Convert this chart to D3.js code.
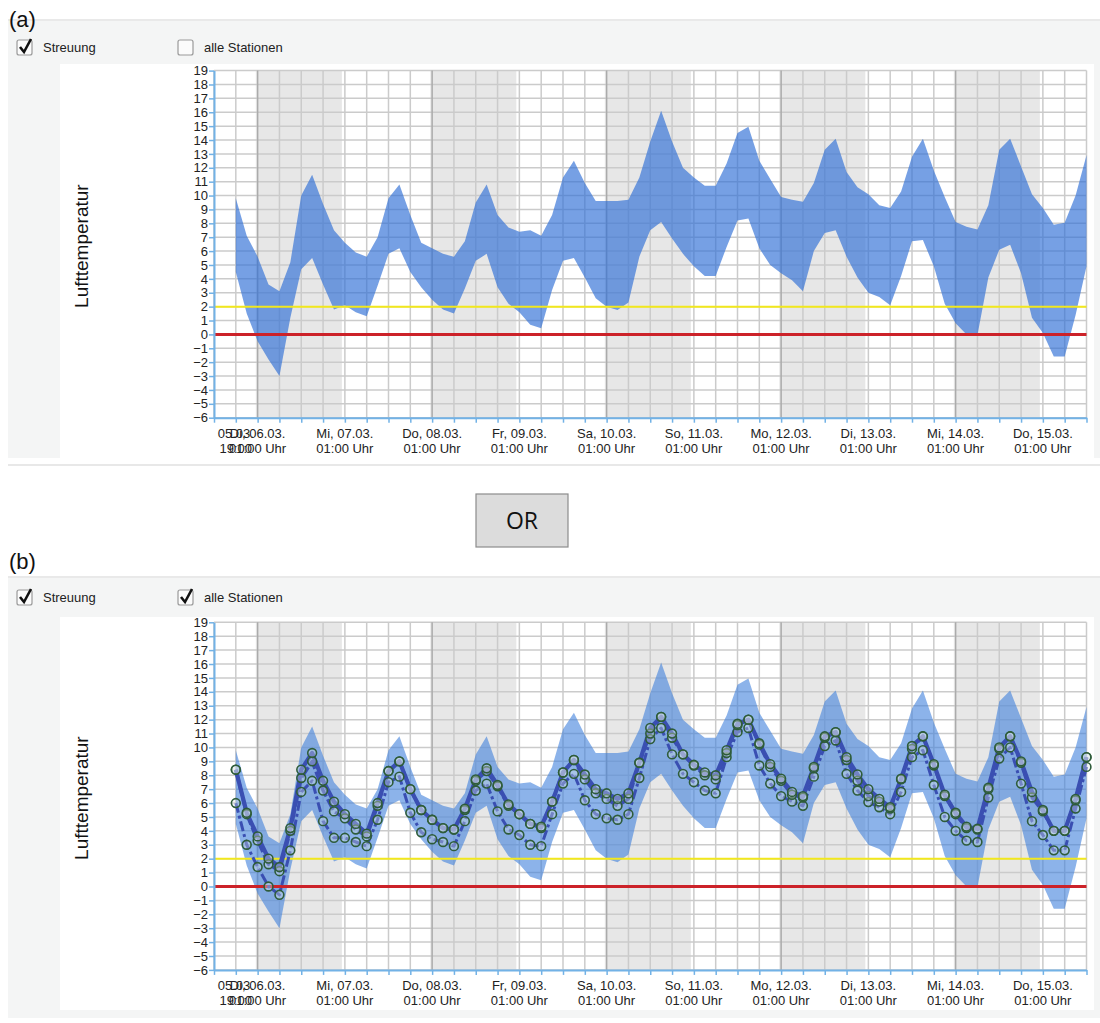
<!DOCTYPE html>
<html>
<head>
<meta charset="utf-8">
<script src="https://cdn.jsdelivr.net/npm/d3@7"></script>
<style>
  html, body { margin: 0; padding: 0; background: #ffffff; }
  svg { display: block; font-family: Arial, "Liberation Sans", sans-serif; }
</style>
</head>
<body>
<svg id="chart" width="1100" height="1023"></svg>
<script>
// ---- Forecast data: air temperature, one value every 3 hours from Mo 05.03. 19:00 ----
const startTime = new Date(2018, 2, 5, 19, 0);
const stepHours = 3;

// spread of all stations (upper / lower envelope)
const spreadHigh = [9.8, 7.1, 5.6, 3.6, 3.1, 5.2, 10.0, 11.5, 9.4, 7.5, 6.6, 5.9, 5.6, 7.0, 9.8, 10.8, 8.6, 6.6, 6.2, 5.8,
  5.6, 6.7, 9.5, 10.8, 8.6, 7.7, 7.4, 7.5, 7.1, 8.6, 11.3, 12.5, 10.9, 9.6, 9.6, 9.6, 9.7, 11.3, 13.9, 16.1,
  13.9, 12.0, 11.3, 10.7, 10.7, 12.3, 14.5, 14.95, 12.5, 11.2, 9.9, 9.7, 9.55, 10.9, 13.3, 14.1, 11.7, 10.6, 10.1, 9.3,
  9.1, 10.3, 12.8, 14.1, 11.8, 9.9, 8.1, 7.75, 7.55, 9.3, 13.3, 14.1, 12.1, 10.1, 9.1, 7.9, 8.05, 10.0, 12.9];
const spreadLow = [4.5, 1.5, -0.5, -1.8, -3.0, 1.2, 4.7, 5.5, 3.6, 1.8, 2.1, 1.6, 1.3, 3.5, 5.8, 6.2, 4.5, 3.4, 2.5, 1.8,
  1.5, 3.3, 5.3, 5.8, 3.4, 2.2, 1.6, 0.7, 0.45, 3.2, 5.3, 5.5, 4.1, 2.6, 2.0, 1.75, 2.3, 5.6, 7.5, 8.1,
  6.9, 5.8, 4.9, 4.2, 4.2, 6.3, 8.2, 8.35, 6.2, 5.0, 4.4, 3.9, 3.1, 6.0, 7.3, 7.5, 5.6, 4.1, 3.0, 2.7,
  2.1, 4.2, 6.7, 6.8, 4.9, 2.2, 0.8, 0.0, -0.05, 4.1, 6.1, 6.45, 4.4, 1.2, 0.1, -1.6, -1.6, 1.4, 4.9];

// single stations
const station1 = [8.4, 5.3, 3.6, 2.0, 1.4, 4.2, 8.4, 9.6, 7.6, 6.1, 5.2, 4.5, 3.8, 6.0, 8.3, 9.0, 7.0, 5.5, 4.8, 4.2,
  4.1, 5.6, 7.7, 8.5, 7.3, 5.9, 5.2, 4.5, 4.3, 6.1, 8.2, 9.1, 8.05, 7.0, 6.7, 6.3, 6.7, 8.9, 11.4, 12.2,
  11.0, 9.5, 8.75, 8.2, 8.0, 9.8, 11.7, 12.0, 10.3, 8.8, 7.75, 6.8, 6.5, 8.6, 10.8, 11.1, 9.3, 8.06, 7.0, 6.3,
  5.7, 7.75, 10.1, 10.8, 8.8, 6.6, 5.3, 4.3, 4.15, 7.1, 10.0, 10.8, 9.0, 6.8, 5.5, 4.0, 4.0, 6.3, 9.3];
const station2 = [8.4, 5.2, 3.3, 1.6, 1.1, 4.0, 7.8, 9.0, 6.9, 5.4, 4.9, 4.1, 3.6, 5.8, 8.3, 9.0, 7.0, 5.5, 4.8, 4.2,
  4.1, 5.5, 7.6, 8.3, 7.2, 5.8, 5.2, 4.5, 4.2, 6.1, 8.2, 9.1, 7.7, 6.7, 6.3, 5.8, 6.3, 8.9, 11.0, 12.2,
  10.7, 9.5, 8.7, 8.0, 7.7, 9.6, 11.6, 12.0, 10.2, 8.6, 7.6, 6.6, 6.4, 8.5, 10.7, 11.1, 9.1, 7.6, 6.5, 6.1,
  5.6, 7.7, 9.9, 10.8, 8.7, 6.5, 5.2, 4.2, 4.1, 7.0, 9.9, 10.8, 8.9, 6.4, 5.4, 4.0, 4.0, 6.2, 9.3];
const station3 = [6.0, 3.0, 1.4, 0.0, -0.6, 2.6, 6.8, 7.6, 4.7, 3.5, 3.5, 3.2, 2.9, 4.8, 7.5, 7.9, 5.3, 3.9, 3.4, 3.2,
  2.9, 4.7, 6.9, 7.4, 5.4, 4.1, 3.7, 3.0, 2.9, 5.2, 7.4, 8.1, 6.2, 5.2, 4.9, 4.8, 5.2, 7.8, 10.6, 11.4,
  9.5, 8.1, 7.5, 6.9, 6.7, 9.3, 11.1, 11.4, 8.7, 7.4, 6.5, 6.1, 5.8, 7.9, 10.1, 10.5, 8.1, 6.9, 6.07, 5.7,
  5.2, 6.8, 9.3, 9.8, 7.3, 5.0, 4.0, 3.3, 3.2, 6.4, 9.2, 10.0, 7.4, 4.7, 3.7, 2.6, 2.6, 5.6, 8.6];

// axis extent and labels
const timeStart = new Date(2018, 2, 5, 13, 0);
const timeEnd = new Date(2018, 2, 15, 13, 0);
const yTickValues = [-6, -5, -4, -3, -2, -1, 0, 1, 2, 3, 4, 5, 6, 7, 8, 9, 10, 11, 12, 13, 14, 15, 16, 17, 18, 19];
const firstLabel = ["05.03.", "19:00"];
const dayLabels = ["Di, 06.03.", "Mi, 07.03.", "Do, 08.03.", "Fr, 09.03.", "Sa, 10.03.",
                   "So, 11.03.", "Mo, 12.03.", "Di, 13.03.", "Mi, 14.03.", "Do, 15.03."];
const dayLabelTime = "01:00 Uhr";
const shadedDays = [6, 8, 10, 12, 14];          // March days with grey background
const thresholdValues = [2, 0];                 // frost warning levels

const thresholdColors = { 2: "#f2e81c", 0: "#cc2229" };
const thresholdWidths = { 2: 2, 0: 3 };

const timeAt = i => d3.timeHour.offset(startTime, i * stepHours);
const svg = d3.select("#chart");

function checkbox(g, x, y, checked, label) {
  g.append("rect").attr("x", x).attr("y", y).attr("width", 15).attr("height", 15)
    .attr("rx", 2).attr("fill", "#fbfbfb").attr("stroke", "#9a9a9a").attr("stroke-width", 1.2);
  if (checked) {
    g.append("path")
      .attr("d", `M${x + 3},${y + 7} L${x + 7},${y + 12} L${x + 14},${y - 1}`)
      .attr("fill", "none").attr("stroke", "#111").attr("stroke-width", 2.6)
      .attr("stroke-linejoin", "miter");
  }
  g.append("text").attr("x", x + 26).attr("y", y + 12).attr("font-size", 13)
    .attr("fill", "#222").text(label);
}

function drawPanel(cfg) {
  const g = svg.append("g");

  // panel frame
  g.append("line").attr("x1", 8).attr("x2", 1100).attr("y1", cfg.frameTop).attr("y2", cfg.frameTop)
    .attr("stroke", "#e2e2e2").attr("stroke-width", 1.5);
  g.append("rect").attr("x", 8).attr("y", cfg.frameTop + 1).attr("width", 1092)
    .attr("height", cfg.frameBottom - cfg.frameTop - 1).attr("fill", "#f4f5f5");
  g.append("rect").attr("x", 60).attr("y", cfg.whiteTop).attr("width", 1034)
    .attr("height", cfg.whiteBottom - cfg.whiteTop).attr("fill", "#ffffff");
  g.append("text").attr("x", 9).attr("y", cfg.letterY).attr("font-size", 22)
    .attr("fill", "#111").text(cfg.letter);

  checkbox(g, 17, cfg.boxY, true, "Streuung");
  checkbox(g, 178, cfg.boxY, cfg.allStations, "alle Stationen");

  const x = d3.scaleTime().domain([timeStart, timeEnd]).range([214, 1086.5]);
  const y = d3.scaleLinear().domain([-6, 19]).range([cfg.plotBottom, cfg.plotTop]);

  // grey day backgrounds
  g.append("g").selectAll("rect").data(shadedDays).join("rect")
    .attr("x", d => x(new Date(2018, 2, d, 0, 30)))
    .attr("width", d => x(new Date(2018, 2, d + 1, 0, 10)) - x(new Date(2018, 2, d, 0, 30)))
    .attr("y", cfg.plotTop).attr("height", cfg.plotBottom - cfg.plotTop)
    .attr("fill", "#e7e7e7");

  // grid
  const gridTimes = d3.range(0, 41).map(k => d3.timeHour.offset(timeStart, 6 * k));
  const grid = g.append("g").attr("stroke-width", 1.5);
  grid.selectAll("line.h").data(yTickValues).join("line").attr("class", "h")
    .attr("x1", x(timeStart)).attr("x2", x(timeEnd))
    .attr("y1", d => y(d)).attr("y2", d => y(d)).attr("stroke", "#cbcbcb");
  grid.selectAll("line.v").data(gridTimes).join("line").attr("class", "v")
    .attr("x1", d => x(d)).attr("x2", d => x(d))
    .attr("y1", cfg.plotTop).attr("y2", cfg.plotBottom)
    .attr("stroke", d => (d.getHours() === 1 && shadedDays.includes(d.getDate())) ? "#ababab" : "#cbcbcb");

  // spread band
  const area = d3.area()
    .x((d, i) => x(timeAt(i)))
    .y0((d, i) => y(spreadLow[i]))
    .y1(d => y(d));
  g.append("path").datum(spreadHigh).attr("d", area)
    .attr("fill", cfg.bandColor).attr("fill-opacity", cfg.bandOpacity);

  // threshold lines
  g.append("g").selectAll("line").data(thresholdValues).join("line")
    .attr("x1", x(timeStart)).attr("x2", x(timeEnd))
    .attr("y1", d => y(d)).attr("y2", d => y(d))
    .attr("stroke", d => thresholdColors[d]).attr("stroke-width", d => thresholdWidths[d]);

  // individual stations
  if (cfg.allStations) {
    const line = d3.line().x((d, i) => x(timeAt(i))).y(d => y(d));
    const stations = [
      { values: station3, dash: "10,3,3,3", width: 3 },
      { values: station2, dash: "12,3", width: 3.4 },
      { values: station1, dash: null, width: 4.2 }
    ];
    stations.forEach(s => {
      g.append("path").datum(s.values).attr("d", line)
        .attr("fill", "none").attr("stroke", "#3a4fb2").attr("stroke-width", s.width)
        .attr("stroke-dasharray", s.dash).attr("stroke-linejoin", "round");
    });
    stations.forEach(s => {
      g.append("g").selectAll("circle").data(s.values).join("circle")
        .attr("cx", (d, i) => x(timeAt(i))).attr("cy", d => y(d)).attr("r", 4.4)
        .attr("fill", "#dde6e4").attr("fill-opacity", 0.35)
        .attr("stroke", "#2e5c3a").attr("stroke-width", 1.6);
    });
  }

  // axes
  const axisColor = "#72b2e6";
  const yAxis = g.append("g").attr("transform", "translate(214,0)")
    .call(d3.axisLeft(y).tickValues(yTickValues).tickSize(5).tickSizeOuter(0).tickFormat(d3.format("d")));
  yAxis.select(".domain").attr("stroke", axisColor).attr("stroke-width", 2);
  yAxis.selectAll(".tick line").attr("stroke", axisColor).attr("stroke-width", 1.5);
  yAxis.selectAll(".tick text").attr("font-size", 13).attr("fill", "#222")
    .attr("font-family", "Arial, 'Liberation Sans', sans-serif").attr("x", -6);

  const xAxis = g.append("g").attr("transform", `translate(0,${cfg.plotBottom})`)
    .call(d3.axisBottom(x).tickValues(gridTimes).tickSize(5).tickSizeOuter(0).tickFormat(""));
  xAxis.select(".domain").attr("stroke", axisColor).attr("stroke-width", 2);
  xAxis.selectAll(".tick line").attr("stroke", axisColor).attr("stroke-width", 1.5);

  // x labels (the first two overlap, as in the original widget)
  const labels = [{ t: startTime, lines: firstLabel }]
    .concat(dayLabels.map((l, k) => ({ t: new Date(2018, 2, 6 + k, 1, 0), lines: [l, dayLabelTime] })));
  const lab = g.append("g").attr("font-size", 13).attr("fill", "#222").attr("text-anchor", "middle");
  labels.forEach(l => {
    lab.append("text").attr("x", x(l.t)).attr("y", cfg.plotBottom + 20).text(l.lines[0]);
    lab.append("text").attr("x", x(l.t)).attr("y", cfg.plotBottom + 35).text(l.lines[1]);
  });

  // y title
  g.append("text")
    .attr("transform", `translate(88,${(cfg.plotTop + cfg.plotBottom) / 2 + 2}) rotate(-90)`)
    .attr("text-anchor", "middle").attr("font-size", 19).attr("fill", "#111")
    .text("Lufttemperatur");
}

drawPanel({
  letter: "(a)", letterY: 27, frameTop: 20, frameBottom: 458, whiteTop: 64, whiteBottom: 458,
  boxY: 40, plotTop: 70.6, plotBottom: 417.7, allStations: false,
  bandColor: "#2f6fd6", bandOpacity: 0.66
});
drawPanel({
  letter: "(b)", letterY: 569, frameTop: 577, frameBottom: 1018, whiteTop: 617, whiteBottom: 1010,
  boxY: 590, plotTop: 622.3, plotBottom: 969.9, allStations: true,
  bandColor: "#3f80dc", bandOpacity: 0.6
});

// separator and the "OR" button between the two variants
svg.append("line").attr("x1", 8).attr("x2", 1100).attr("y1", 465).attr("y2", 465)
  .attr("stroke", "#e0e0e0").attr("stroke-width", 1.5);
svg.append("rect").attr("x", 476).attr("y", 494).attr("width", 92).attr("height", 53)
  .attr("fill", "#dcdcdc").attr("stroke", "#8c8c8c").attr("stroke-width", 1.2);
svg.append("text").attr("x", 522).attr("y", 529).attr("text-anchor", "middle")
  .attr("font-family", "'Open Sans', 'Noto Sans', sans-serif").attr("font-size", 23)
  .attr("fill", "#111").text("OR");
</script>
</body>
</html>
